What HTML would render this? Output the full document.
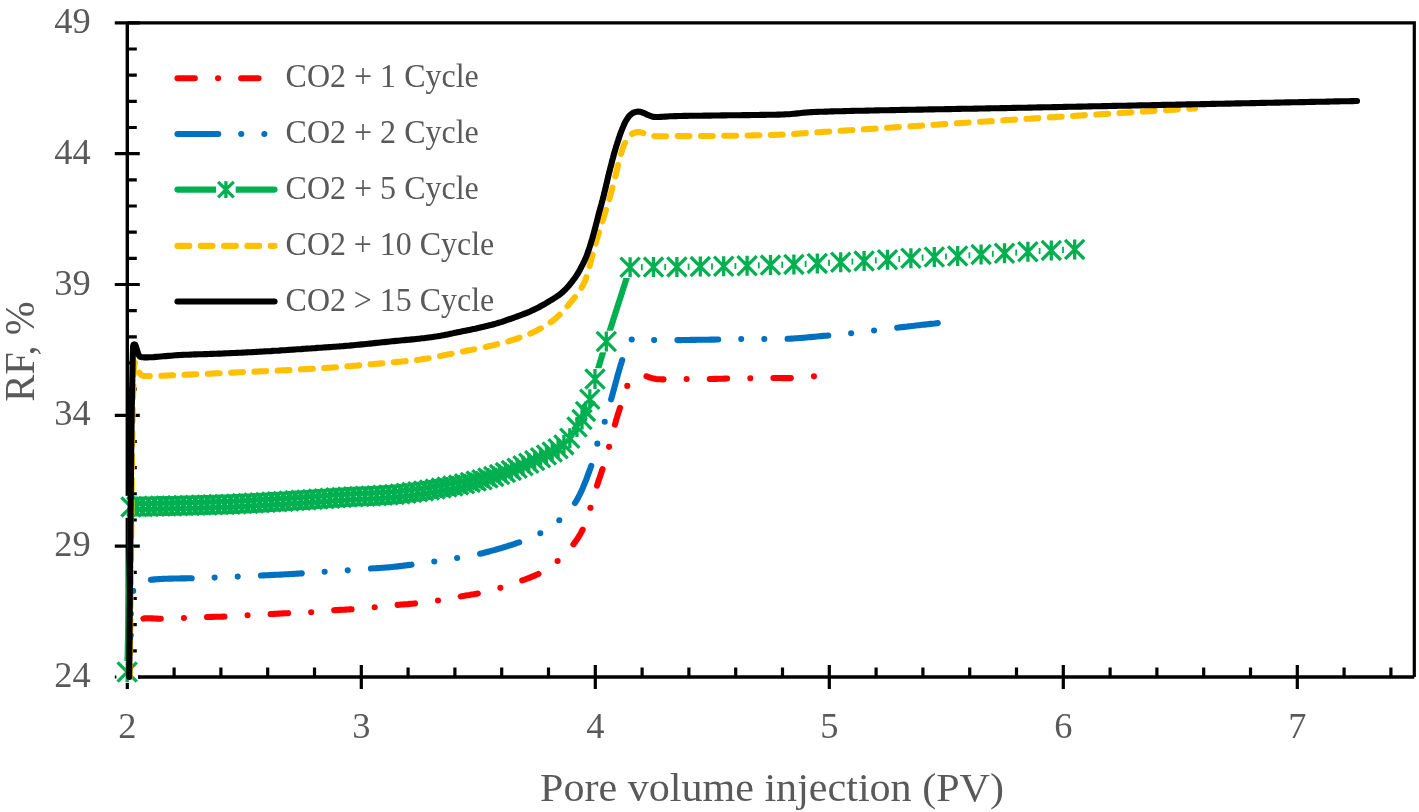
<!DOCTYPE html>
<html><head><meta charset="utf-8"><style>
html,body{margin:0;padding:0;background:#fff;}
body{width:1419px;height:812px;overflow:hidden;font-family:"Liberation Serif",serif;}
svg{display:block;}
svg{will-change:transform;}
</style></head><body>
<svg width="1419" height="812" viewBox="0 0 1419 812">
<rect width="1419" height="812" fill="#fff"/>
<path d="M127.3,22.8H1414.3V677.0" fill="none" stroke="#000" stroke-width="3.2"/>
<path d="M114.8,677.0H139.8 M127.3,650.8H136.8 M127.3,624.7H136.8 M127.3,598.5H136.8 M127.3,572.3H136.8 M114.8,546.2H139.8 M127.3,520.0H136.8 M127.3,493.8H136.8 M127.3,467.7H136.8 M127.3,441.5H136.8 M114.8,415.3H139.8 M127.3,389.2H136.8 M127.3,363.0H136.8 M127.3,336.8H136.8 M127.3,310.6H136.8 M114.8,284.5H139.8 M127.3,258.3H136.8 M127.3,232.1H136.8 M127.3,206.0H136.8 M127.3,179.8H136.8 M114.8,153.6H139.8 M127.3,127.5H136.8 M127.3,101.3H136.8 M127.3,75.1H136.8 M127.3,49.0H136.8 M114.8,22.8H139.8 M127.3,665.0V689.0 M174.1,667.5V677.0 M220.9,667.5V677.0 M267.7,667.5V677.0 M314.5,667.5V677.0 M361.3,665.0V689.0 M408.1,667.5V677.0 M454.9,667.5V677.0 M501.7,667.5V677.0 M548.5,667.5V677.0 M595.3,665.0V689.0 M642.1,667.5V677.0 M688.9,667.5V677.0 M735.7,667.5V677.0 M782.5,667.5V677.0 M829.3,665.0V689.0 M876.1,667.5V677.0 M922.9,667.5V677.0 M969.7,667.5V677.0 M1016.5,667.5V677.0 M1063.3,665.0V689.0 M1110.1,667.5V677.0 M1156.9,667.5V677.0 M1203.7,667.5V677.0 M1250.5,667.5V677.0 M1297.3,665.0V689.0 M1344.1,667.5V677.0 M1390.9,667.5V677.0" stroke="#000" stroke-width="3.2"/>
<path d="M127.3,22.8V677.0H1414.3" fill="none" stroke="#000" stroke-width="3.4"/>
<g font-family="Liberation Serif" font-size="36.4" fill="#595959"><text x="90.6" y="687.0" text-anchor="end">24</text><text x="90.6" y="556.2" text-anchor="end">29</text><text x="90.6" y="425.3" text-anchor="end">34</text><text x="90.6" y="294.5" text-anchor="end">39</text><text x="90.6" y="163.6" text-anchor="end">44</text><text x="90.6" y="32.8" text-anchor="end">49</text><text x="127.3" y="738.3" text-anchor="middle">2</text><text x="361.3" y="738.3" text-anchor="middle">3</text><text x="595.3" y="738.3" text-anchor="middle">4</text><text x="829.3" y="738.3" text-anchor="middle">5</text><text x="1063.3" y="738.3" text-anchor="middle">6</text><text x="1297.3" y="738.3" text-anchor="middle">7</text></g>
<text x="772" y="801.3" text-anchor="middle" font-family="Liberation Serif" font-size="40.2" fill="#595959" textLength="464" lengthAdjust="spacingAndGlyphs">Pore volume injection (PV)</text>
<text transform="translate(34,351.6) rotate(-90)" x="0" y="0" text-anchor="middle" font-family="Liberation Serif" font-size="41.2" fill="#595959" textLength="100.5" lengthAdjust="spacingAndGlyphs">RF, %</text>
<path d="M128.0,677.0 L128.2,674.9 L128.3,672.8 L128.4,670.7 L128.6,668.7 L128.7,666.6 L128.9,664.5 L129.0,662.4 L129.1,660.3 L129.3,658.2 L129.5,656.2 L129.6,654.1 L129.8,652.0 L130.0,650.0 L130.2,647.8 L130.3,645.6 L130.4,643.2 L130.5,640.9 L130.5,638.5 L130.6,636.2 L130.8,634.0 L131.0,631.9 L131.3,629.9 L131.8,628.0 L132.3,626.4 L133.0,625.0 L134.3,623.2 L135.9,621.8 L137.6,620.7 L139.6,619.8 L141.7,619.0 L143.5,618.6 L145.4,618.3 L147.6,618.2 L149.8,618.3 L152.1,618.4 L154.4,618.5 L156.8,618.6 L159.1,618.7 L161.4,618.7 L163.4,618.7 L165.4,618.6 L167.4,618.5 L169.4,618.5 L171.4,618.4 L173.5,618.4 L175.5,618.3 L177.6,618.2 L179.6,618.1 L181.7,618.1 L183.7,618.0 L185.7,617.9 L187.7,617.8 L189.8,617.8 L191.8,617.7 L193.8,617.6 L195.8,617.5 L197.9,617.4 L199.9,617.3 L201.9,617.2 L203.8,617.2 L205.8,617.1 L208.0,617.0 L210.3,617.0 L212.4,616.9 L214.6,616.8 L216.8,616.8 L219.0,616.7 L221.1,616.7 L223.4,616.6 L225.6,616.5 L227.6,616.4 L229.6,616.3 L231.6,616.2 L233.6,616.1 L235.7,616.0 L237.7,615.9 L239.7,615.8 L241.8,615.6 L243.8,615.5 L245.9,615.4 L247.9,615.3 L249.9,615.2 L251.9,615.1 L254.0,615.0 L256.0,614.9 L258.0,614.7 L260.0,614.6 L262.1,614.5 L264.1,614.4 L266.1,614.3 L268.0,614.2 L270.0,614.1 L272.2,614.0 L274.4,613.9 L276.6,613.8 L278.8,613.6 L280.9,613.5 L283.1,613.4 L285.3,613.3 L287.5,613.2 L289.7,613.1 L291.7,613.0 L293.6,612.9 L295.6,612.9 L297.6,612.8 L299.7,612.7 L301.7,612.7 L303.7,612.6 L305.7,612.5 L307.8,612.4 L309.8,612.3 L311.8,612.2 L314.0,612.0 L316.2,611.9 L318.4,611.7 L320.6,611.4 L322.8,611.2 L325.0,611.0 L327.2,610.8 L329.4,610.6 L331.5,610.4 L333.7,610.2 L335.7,610.1 L337.8,610.0 L339.8,609.9 L341.8,609.8 L343.8,609.7 L345.7,609.6 L347.7,609.5 L349.7,609.4 L351.8,609.3 L353.8,609.2 L355.9,609.0 L358.1,608.9 L360.3,608.7 L362.4,608.5 L364.6,608.3 L366.8,608.1 L369.0,607.9 L371.1,607.6 L373.3,607.4 L375.5,607.2 L377.7,607.0 L379.9,606.7 L382.1,606.5 L384.2,606.3 L386.4,606.0 L388.6,605.8 L390.8,605.6 L392.9,605.3 L395.1,605.1 L397.2,604.9 L399.4,604.7 L401.5,604.5 L403.6,604.4 L405.7,604.2 L407.8,604.1 L409.9,603.9 L412.1,603.7 L414.2,603.5 L416.4,603.3 L418.4,603.1 L420.4,602.8 L422.4,602.6 L424.5,602.3 L426.6,602.1 L428.6,601.8 L430.7,601.5 L432.8,601.2 L434.9,600.9 L436.9,600.6 L439.0,600.3 L441.1,600.0 L443.1,599.6 L445.2,599.3 L447.2,598.9 L449.3,598.5 L451.4,598.1 L453.4,597.8 L455.4,597.4 L457.5,597.0 L459.4,596.6 L461.4,596.3 L463.5,595.9 L465.6,595.6 L467.7,595.3 L469.7,595.0 L471.7,594.6 L473.7,594.3 L475.7,593.9 L477.8,593.5 L479.9,593.1 L481.8,592.7 L483.7,592.2 L485.7,591.8 L487.6,591.3 L489.6,590.8 L491.6,590.3 L493.6,589.8 L495.6,589.2 L497.6,588.7 L499.5,588.1 L501.5,587.5 L503.5,586.9 L505.5,586.3 L507.6,585.6 L509.6,584.9 L511.6,584.2 L513.7,583.5 L515.7,582.8 L517.7,582.1 L519.6,581.4 L521.5,580.7 L523.4,580.0 L525.4,579.3 L527.3,578.5 L529.2,577.8 L531.0,577.1 L532.8,576.4 L534.6,575.7 L536.4,574.8 L538.3,574.0 L540.1,573.0 L541.8,572.0 L543.5,571.0 L545.2,570.0 L547.0,568.9 L548.7,567.8 L550.4,566.6 L552.1,565.4 L553.8,564.1 L555.4,562.8 L557.0,561.5 L558.6,560.2 L560.1,558.8 L561.7,557.4 L563.2,555.9 L564.7,554.4 L566.1,552.9 L567.6,551.3 L569.0,549.8 L570.3,548.2 L571.6,546.6 L572.9,545.0 L574.1,543.4 L575.4,541.7 L576.6,539.9 L577.8,538.2 L578.9,536.4 L579.9,534.7 L580.9,532.9 L581.9,531.0 L582.9,529.1 L583.8,527.2 L584.6,525.4 L585.3,523.6 L586.0,521.7 L586.7,519.8 L587.3,517.8 L588.0,515.8 L588.6,513.8 L589.2,511.8 L589.8,509.9 L590.4,507.9 L591.0,505.9 L591.6,503.9 L592.2,501.9 L592.9,499.8 L593.5,497.8 L594.1,495.7 L594.7,493.6 L595.2,491.6 L595.8,489.6 L596.4,487.6 L597.0,485.7 L597.6,483.8 L598.3,481.6 L599.0,479.6 L599.7,477.6 L600.4,475.6 L601.0,473.6 L601.7,471.6 L602.4,469.6 L603.1,467.4 L603.7,465.5 L604.3,463.5 L604.9,461.5 L605.5,459.4 L606.1,457.4 L606.7,455.2 L607.3,453.1 L607.9,451.0 L608.5,448.9 L609.1,446.8 L609.7,444.7 L610.3,442.6 L610.8,440.5 L611.4,438.3 L611.9,436.2 L612.5,434.0 L613.0,431.9 L613.5,429.8 L614.1,427.7 L614.6,425.6 L615.2,423.6 L615.7,421.7 L616.3,419.5 L617.0,417.4 L617.6,415.4 L618.2,413.4 L618.9,411.5 L619.5,409.5 L620.2,407.4 L620.9,405.3 L621.5,403.4 L622.1,401.4 L622.7,399.3 L623.4,397.1 L624.0,394.9 L624.7,392.8 L625.3,390.7 L626.0,388.8 L626.8,387.0 L627.5,385.4 L628.3,384.0 L630.1,381.7 L632.0,380.0 L634.0,378.6 L636.0,377.5 L638.0,376.7 L640.0,376.2 L642.5,375.8 L645.0,375.9 L647.5,376.6 L650.0,377.6 L651.9,378.1 L653.9,378.6 L656.0,379.0 L658.1,379.2 L660.3,379.3 L662.6,379.4 L665.3,379.4 L667.0,379.4 L668.7,379.4 L670.6,379.4 L672.6,379.3 L674.7,379.3 L676.8,379.2 L678.9,379.2 L681.1,379.1 L683.2,379.1 L685.3,379.0 L687.4,379.0 L689.5,379.0 L691.5,379.0 L693.6,379.0 L695.7,379.0 L697.8,379.0 L699.8,379.0 L701.9,379.0 L704.0,379.0 L706.0,379.0 L708.0,379.0 L710.0,379.0 L712.2,379.0 L714.3,378.9 L716.4,378.9 L718.5,378.8 L720.5,378.7 L722.6,378.7 L724.7,378.6 L726.8,378.5 L729.0,378.5 L731.0,378.5 L732.9,378.4 L734.9,378.4 L736.9,378.4 L739.0,378.4 L741.0,378.4 L743.0,378.4 L745.1,378.4 L747.1,378.3 L749.2,378.3 L751.2,378.3 L753.3,378.3 L755.4,378.2 L757.5,378.2 L759.6,378.2 L761.7,378.2 L763.9,378.1 L766.0,378.1 L768.1,378.1 L770.1,378.0 L772.2,378.0 L774.2,378.0 L776.4,378.0 L778.6,378.0 L780.7,378.0 L782.8,378.1 L784.9,378.1 L787.0,378.1 L789.1,378.1 L791.2,378.1 L793.4,378.0 L795.4,377.9 L797.3,377.8 L799.3,377.6 L801.3,377.5 L803.3,377.3 L805.4,377.1 L807.4,376.9 L809.4,376.7 L811.5,376.6 L813.5,376.4 L815.5,376.2" fill="none" stroke="#FF0000" stroke-width="6.1" stroke-linecap="round" stroke-linejoin="round" stroke-dasharray="17.4 23.2 0 23.1" stroke-dashoffset="62.40"/>
<path d="M128.0,677.0 L128.1,674.9 L128.2,672.9 L128.3,670.9 L128.4,668.8 L128.6,666.8 L128.7,664.7 L128.8,662.7 L128.9,660.6 L129.0,658.6 L129.1,656.5 L129.2,654.5 L129.3,652.4 L129.4,650.4 L129.6,648.3 L129.7,646.3 L129.8,644.2 L129.9,642.1 L130.0,640.0 L130.1,638.0 L130.2,636.0 L130.3,633.9 L130.3,631.8 L130.4,629.7 L130.4,627.5 L130.5,625.4 L130.6,623.2 L130.6,621.1 L130.7,619.0 L130.8,616.8 L130.8,614.8 L130.9,612.7 L131.0,610.7 L131.1,608.7 L131.3,606.9 L131.4,605.0 L131.6,603.3 L131.8,601.6 L132.0,600.0 L132.3,597.6 L132.6,595.2 L132.9,592.9 L133.2,590.8 L133.6,588.8 L134.2,587.0 L135.0,585.4 L136.0,584.0 L137.4,582.9 L139.0,582.0 L140.7,581.4 L142.7,581.0 L144.8,580.7 L147.1,580.4 L149.6,580.0 L151.1,579.8 L152.8,579.6 L154.6,579.4 L156.5,579.2 L158.5,579.1 L160.6,579.0 L162.8,578.9 L165.0,578.8 L167.2,578.7 L169.5,578.6 L171.8,578.6 L174.1,578.5 L176.4,578.5 L178.7,578.5 L181.0,578.4 L183.2,578.4 L185.3,578.4 L187.4,578.3 L189.3,578.3 L191.2,578.3 L193.0,578.2 L195.5,578.1 L197.8,578.1 L200.0,578.0 L202.2,577.9 L204.3,577.9 L206.3,577.8 L208.4,577.8 L210.4,577.7 L212.5,577.7 L214.7,577.6 L216.8,577.5 L218.9,577.4 L221.0,577.4 L223.1,577.3 L225.2,577.2 L227.3,577.1 L229.4,577.0 L231.5,576.9 L233.6,576.8 L235.7,576.7 L237.8,576.6 L239.8,576.5 L241.8,576.4 L243.7,576.3 L245.6,576.3 L247.5,576.2 L249.4,576.1 L251.4,576.0 L253.4,575.9 L255.5,575.8 L257.7,575.7 L260.0,575.6 L261.8,575.5 L263.6,575.4 L265.6,575.3 L267.6,575.2 L269.7,575.1 L271.8,575.0 L274.0,574.9 L276.2,574.8 L278.4,574.7 L280.7,574.6 L282.9,574.5 L285.1,574.3 L287.4,574.2 L289.6,574.1 L291.7,574.0 L293.9,573.9 L295.9,573.8 L297.9,573.6 L299.9,573.5 L301.7,573.4 L303.5,573.3 L306.0,573.1 L308.3,573.0 L310.5,572.8 L312.7,572.6 L314.8,572.5 L316.8,572.3 L318.9,572.2 L320.9,572.0 L323.0,571.9 L325.2,571.7 L327.3,571.6 L329.4,571.4 L331.5,571.3 L333.6,571.2 L335.7,571.1 L337.8,570.9 L339.9,570.8 L342.0,570.7 L344.1,570.6 L346.2,570.4 L348.3,570.3 L350.5,570.1 L352.6,570.0 L354.8,569.8 L356.9,569.6 L359.0,569.5 L361.2,569.3 L363.3,569.1 L365.4,568.9 L367.5,568.8 L369.6,568.6 L371.7,568.5 L373.7,568.3 L375.7,568.2 L377.8,568.1 L379.8,568.0 L381.8,567.8 L383.8,567.7 L385.9,567.5 L387.9,567.4 L390.0,567.2 L392.0,567.0 L393.9,566.8 L395.9,566.6 L397.9,566.4 L399.9,566.1 L401.9,565.9 L403.9,565.6 L405.9,565.4 L408.0,565.1 L410.0,564.9 L412.0,564.6 L414.1,564.3 L416.1,564.1 L418.2,563.8 L420.3,563.5 L422.4,563.2 L424.5,562.9 L426.6,562.6 L428.6,562.3 L430.7,562.0 L432.8,561.7 L434.9,561.4 L437.0,561.1 L439.1,560.8 L441.1,560.5 L443.2,560.2 L445.3,559.9 L447.4,559.6 L449.5,559.2 L451.6,558.9 L453.6,558.6 L455.7,558.2 L457.8,557.9 L459.9,557.6 L461.9,557.2 L463.9,556.9 L465.9,556.6 L467.9,556.2 L469.9,555.9 L471.9,555.5 L474.0,555.1 L476.2,554.6 L478.4,554.1 L480.7,553.6 L482.5,553.2 L484.3,552.7 L486.2,552.2 L488.1,551.7 L490.1,551.2 L492.1,550.6 L494.2,550.1 L496.3,549.5 L498.4,548.9 L500.5,548.3 L502.6,547.6 L504.7,547.0 L506.8,546.4 L508.8,545.7 L510.8,545.1 L512.8,544.5 L514.7,543.8 L516.5,543.2 L518.3,542.6 L520.0,542.0 L522.2,541.2 L524.3,540.4 L526.3,539.7 L528.3,538.9 L530.1,538.1 L532.0,537.3 L533.8,536.5 L535.6,535.7 L537.4,534.8 L539.2,533.9 L541.0,532.9 L542.8,531.9 L544.6,530.8 L546.4,529.7 L548.2,528.5 L550.0,527.3 L551.7,526.1 L553.4,524.9 L555.1,523.6 L556.8,522.3 L558.4,521.0 L560.0,519.6 L561.5,518.2 L563.0,516.9 L564.5,515.5 L565.9,514.2 L567.3,512.8 L568.7,511.3 L570.0,509.8 L571.3,508.2 L572.6,506.5 L573.9,504.7 L575.2,502.8 L576.1,501.3 L577.1,499.7 L578.0,498.0 L578.9,496.2 L579.9,494.3 L580.8,492.4 L581.7,490.4 L582.6,488.4 L583.4,486.4 L584.3,484.3 L585.1,482.2 L586.0,480.2 L586.8,478.1 L587.5,476.0 L588.3,474.0 L589.0,472.1 L589.7,470.1 L590.4,468.3 L591.0,466.5 L591.6,464.8 L592.3,462.6 L593.0,460.5 L593.6,458.4 L594.1,456.4 L594.6,454.4 L595.1,452.5 L595.5,450.6 L596.0,448.6 L596.5,446.7 L597.0,444.8 L597.6,442.8 L598.2,440.8 L598.9,438.8 L599.5,436.8 L600.2,434.8 L600.9,432.9 L601.6,430.9 L602.3,428.9 L603.0,426.9 L603.7,424.9 L604.4,422.9 L605.0,420.9 L605.6,418.9 L606.2,416.9 L606.8,415.0 L607.3,413.0 L607.9,411.1 L608.4,409.1 L609.0,407.1 L609.6,405.0 L610.1,402.9 L610.8,400.7 L611.4,398.4 L611.9,396.7 L612.4,394.8 L612.9,392.9 L613.4,391.0 L614.0,389.0 L614.5,386.9 L615.1,384.8 L615.7,382.7 L616.3,380.5 L616.8,378.4 L617.4,376.3 L618.0,374.2 L618.6,372.1 L619.2,370.0 L619.8,368.0 L620.3,366.0 L620.9,364.2 L621.5,362.4 L622.0,360.6 L622.6,359.0 L623.4,356.6 L624.2,354.2 L624.9,351.9 L625.6,349.6 L626.4,347.5 L627.1,345.6 L628.0,343.8 L628.9,342.3 L630.0,341.0 L631.8,339.5 L633.6,338.5 L635.7,337.9 L638.0,337.5 L639.7,337.4 L641.5,337.6 L643.4,338.0 L645.4,338.4 L647.5,338.9 L649.6,339.4 L651.8,339.8 L654.0,340.1 L655.9,340.2 L657.9,340.3 L659.8,340.4 L661.8,340.4 L663.9,340.4 L666.0,340.3 L668.1,340.3 L670.3,340.2 L672.5,340.2 L674.8,340.1 L677.2,340.1 L679.0,340.1 L680.9,340.1 L682.8,340.0 L684.8,340.0 L686.8,340.0 L688.9,340.0 L691.0,339.9 L693.1,339.9 L695.3,339.9 L697.5,339.8 L699.6,339.8 L701.8,339.8 L703.9,339.7 L706.1,339.7 L708.1,339.7 L710.2,339.6 L712.2,339.6 L714.1,339.6 L716.0,339.5 L717.8,339.5 L720.2,339.5 L722.5,339.4 L724.7,339.4 L726.9,339.3 L729.0,339.2 L731.1,339.2 L733.2,339.1 L735.2,339.1 L737.3,339.1 L739.4,339.0 L741.5,339.0 L743.6,339.0 L745.7,339.0 L747.8,339.0 L750.0,339.0 L752.1,339.0 L754.2,339.0 L756.3,339.0 L758.4,339.0 L760.5,339.0 L762.6,339.0 L764.7,339.0 L766.8,339.0 L768.8,339.0 L770.8,339.0 L772.8,339.0 L774.8,339.0 L776.8,339.0 L778.9,339.0 L781.0,339.0 L783.1,339.0 L785.4,338.9 L787.7,338.8 L789.5,338.7 L791.4,338.6 L793.4,338.5 L795.4,338.3 L797.5,338.2 L799.6,338.0 L801.8,337.9 L804.0,337.7 L806.2,337.5 L808.4,337.3 L810.6,337.1 L812.8,336.9 L815.0,336.7 L817.1,336.5 L819.3,336.3 L821.3,336.1 L823.4,335.9 L825.3,335.7 L827.2,335.6 L829.0,335.4 L831.3,335.2 L833.5,335.0 L835.6,334.8 L837.7,334.6 L839.7,334.4 L841.6,334.2 L843.6,334.0 L845.5,333.8 L847.5,333.6 L849.5,333.4 L851.5,333.2 L853.6,333.0 L855.7,332.7 L857.8,332.5 L859.9,332.2 L862.0,332.0 L864.0,331.7 L866.1,331.4 L868.2,331.2 L870.3,330.9 L872.4,330.7 L874.5,330.4 L876.5,330.2 L878.5,329.9 L880.5,329.7 L882.4,329.4 L884.4,329.2 L886.3,329.0 L888.3,328.7 L890.4,328.5 L892.5,328.2 L894.7,328.0 L897.0,327.7 L898.7,327.5 L900.5,327.3 L902.3,327.1 L904.2,326.9 L906.1,326.7 L908.0,326.4 L910.0,326.2 L912.0,326.0 L914.0,325.8 L916.1,325.5 L918.1,325.3 L920.2,325.1 L922.3,324.8 L924.4,324.6 L926.5,324.4 L928.6,324.1 L930.6,323.9 L932.7,323.7 L934.8,323.5 L936.8,323.2 L938.8,323.0" fill="none" stroke="#0070C0" stroke-width="6.1" stroke-linecap="round" stroke-linejoin="round" stroke-dasharray="40.8 23 0 23.1 0 23.3" stroke-dashoffset="0.59"/>
<path d="M127.2,672.0 L131.0,506.9 L136.8,506.6 L142.7,506.5 L148.5,506.4 L154.4,506.2 L160.2,506.1 L166.1,506.0 L171.9,505.9 L177.8,505.7 L183.6,505.6 L189.5,505.4 L195.3,505.3 L201.2,505.1 L207.0,505.0 L212.9,504.8 L218.7,504.6 L224.6,504.4 L230.4,504.2 L236.3,503.9 L242.1,503.6 L248.0,503.4 L253.8,503.0 L259.7,502.7 L265.5,502.4 L271.4,502.1 L277.2,501.7 L283.1,501.4 L288.9,501.0 L294.8,500.6 L300.7,500.3 L306.5,499.9 L312.4,499.5 L318.2,499.1 L324.1,498.7 L329.9,498.3 L335.8,497.8 L341.6,497.4 L347.5,497.1 L353.3,496.8 L359.2,496.5 L365.0,496.3 L370.9,496.0 L376.7,495.7 L382.6,495.3 L388.4,494.9 L394.3,494.5 L400.1,493.9 L406.0,493.2 L411.8,492.5 L417.7,491.7 L423.5,490.9 L429.4,490.0 L435.2,489.1 L441.1,488.1 L446.9,487.1 L452.8,486.0 L458.6,484.9 L464.5,483.7 L470.3,482.4 L476.2,481.1 L482.0,479.7 L487.9,478.1 L493.7,476.4 L499.6,474.6 L505.4,472.6 L511.3,470.4 L517.1,468.2 L523.0,465.8 L528.8,463.3 L534.7,460.6 L540.5,457.8 L546.4,455.0 L552.2,452.0 L558.1,448.8 L563.9,444.9 L569.8,438.3 L577.0,427.0 L582.0,419.5 L585.5,411.4 L589.8,399.3 L595.0,379.0 L606.3,341.5 L630.1,267.2 L653.5,267.1 L676.9,266.9 L700.3,266.6 L723.7,266.2 L747.1,265.7 L770.5,265.1 L793.9,264.4 L817.3,263.4 L840.7,262.2 L864.1,261.0 L887.5,259.7 L910.9,258.2 L934.3,257.0 L957.7,256.0 L981.1,254.5 L1004.5,253.3 L1027.9,251.8 L1051.3,250.4 L1074.7,249.4" fill="none" stroke="#00B050" stroke-width="6.1" stroke-linecap="round" stroke-linejoin="round"/>
<g fill="#fff"><rect x="116.4" y="661.2" width="21.6" height="21.6"/><rect x="120.2" y="496.1" width="21.6" height="21.6"/><rect x="126.0" y="495.8" width="21.6" height="21.6"/><rect x="131.9" y="495.7" width="21.6" height="21.6"/><rect x="137.7" y="495.6" width="21.6" height="21.6"/><rect x="143.6" y="495.4" width="21.6" height="21.6"/><rect x="149.4" y="495.3" width="21.6" height="21.6"/><rect x="155.3" y="495.2" width="21.6" height="21.6"/><rect x="161.1" y="495.1" width="21.6" height="21.6"/><rect x="167.0" y="494.9" width="21.6" height="21.6"/><rect x="172.8" y="494.8" width="21.6" height="21.6"/><rect x="178.7" y="494.6" width="21.6" height="21.6"/><rect x="184.5" y="494.5" width="21.6" height="21.6"/><rect x="190.4" y="494.3" width="21.6" height="21.6"/><rect x="196.2" y="494.2" width="21.6" height="21.6"/><rect x="202.1" y="494.0" width="21.6" height="21.6"/><rect x="207.9" y="493.8" width="21.6" height="21.6"/><rect x="213.8" y="493.6" width="21.6" height="21.6"/><rect x="219.6" y="493.4" width="21.6" height="21.6"/><rect x="225.5" y="493.1" width="21.6" height="21.6"/><rect x="231.3" y="492.8" width="21.6" height="21.6"/><rect x="237.2" y="492.6" width="21.6" height="21.6"/><rect x="243.0" y="492.2" width="21.6" height="21.6"/><rect x="248.9" y="491.9" width="21.6" height="21.6"/><rect x="254.7" y="491.6" width="21.6" height="21.6"/><rect x="260.6" y="491.3" width="21.6" height="21.6"/><rect x="266.4" y="490.9" width="21.6" height="21.6"/><rect x="272.3" y="490.6" width="21.6" height="21.6"/><rect x="278.1" y="490.2" width="21.6" height="21.6"/><rect x="284.0" y="489.8" width="21.6" height="21.6"/><rect x="289.9" y="489.5" width="21.6" height="21.6"/><rect x="295.7" y="489.1" width="21.6" height="21.6"/><rect x="301.6" y="488.7" width="21.6" height="21.6"/><rect x="307.4" y="488.3" width="21.6" height="21.6"/><rect x="313.3" y="487.9" width="21.6" height="21.6"/><rect x="319.1" y="487.5" width="21.6" height="21.6"/><rect x="325.0" y="487.0" width="21.6" height="21.6"/><rect x="330.8" y="486.6" width="21.6" height="21.6"/><rect x="336.7" y="486.3" width="21.6" height="21.6"/><rect x="342.5" y="486.0" width="21.6" height="21.6"/><rect x="348.4" y="485.7" width="21.6" height="21.6"/><rect x="354.2" y="485.5" width="21.6" height="21.6"/><rect x="360.1" y="485.2" width="21.6" height="21.6"/><rect x="365.9" y="484.9" width="21.6" height="21.6"/><rect x="371.8" y="484.5" width="21.6" height="21.6"/><rect x="377.6" y="484.1" width="21.6" height="21.6"/><rect x="383.5" y="483.7" width="21.6" height="21.6"/><rect x="389.3" y="483.1" width="21.6" height="21.6"/><rect x="395.2" y="482.4" width="21.6" height="21.6"/><rect x="401.0" y="481.7" width="21.6" height="21.6"/><rect x="406.9" y="480.9" width="21.6" height="21.6"/><rect x="412.7" y="480.1" width="21.6" height="21.6"/><rect x="418.6" y="479.2" width="21.6" height="21.6"/><rect x="424.4" y="478.3" width="21.6" height="21.6"/><rect x="430.3" y="477.3" width="21.6" height="21.6"/><rect x="436.1" y="476.3" width="21.6" height="21.6"/><rect x="442.0" y="475.2" width="21.6" height="21.6"/><rect x="447.8" y="474.1" width="21.6" height="21.6"/><rect x="453.7" y="472.9" width="21.6" height="21.6"/><rect x="459.5" y="471.6" width="21.6" height="21.6"/><rect x="465.4" y="470.3" width="21.6" height="21.6"/><rect x="471.2" y="468.9" width="21.6" height="21.6"/><rect x="477.1" y="467.3" width="21.6" height="21.6"/><rect x="482.9" y="465.6" width="21.6" height="21.6"/><rect x="488.8" y="463.8" width="21.6" height="21.6"/><rect x="494.6" y="461.8" width="21.6" height="21.6"/><rect x="500.5" y="459.6" width="21.6" height="21.6"/><rect x="506.3" y="457.4" width="21.6" height="21.6"/><rect x="512.2" y="455.0" width="21.6" height="21.6"/><rect x="518.0" y="452.5" width="21.6" height="21.6"/><rect x="523.9" y="449.8" width="21.6" height="21.6"/><rect x="529.7" y="447.0" width="21.6" height="21.6"/><rect x="535.6" y="444.2" width="21.6" height="21.6"/><rect x="541.4" y="441.2" width="21.6" height="21.6"/><rect x="547.3" y="438.0" width="21.6" height="21.6"/><rect x="553.1" y="434.1" width="21.6" height="21.6"/><rect x="559.0" y="427.5" width="21.6" height="21.6"/><rect x="566.2" y="416.2" width="21.6" height="21.6"/><rect x="571.2" y="408.7" width="21.6" height="21.6"/><rect x="574.7" y="400.6" width="21.6" height="21.6"/><rect x="579.0" y="388.5" width="21.6" height="21.6"/><rect x="584.2" y="368.2" width="21.6" height="21.6"/><rect x="595.5" y="330.7" width="21.6" height="21.6"/><rect x="619.3" y="256.4" width="21.6" height="21.6"/><rect x="642.7" y="256.3" width="21.6" height="21.6"/><rect x="666.1" y="256.1" width="21.6" height="21.6"/><rect x="689.5" y="255.8" width="21.6" height="21.6"/><rect x="712.9" y="255.4" width="21.6" height="21.6"/><rect x="736.3" y="254.9" width="21.6" height="21.6"/><rect x="759.7" y="254.3" width="21.6" height="21.6"/><rect x="783.1" y="253.6" width="21.6" height="21.6"/><rect x="806.5" y="252.6" width="21.6" height="21.6"/><rect x="829.9" y="251.4" width="21.6" height="21.6"/><rect x="853.3" y="250.2" width="21.6" height="21.6"/><rect x="876.7" y="248.9" width="21.6" height="21.6"/><rect x="900.1" y="247.4" width="21.6" height="21.6"/><rect x="923.5" y="246.2" width="21.6" height="21.6"/><rect x="946.9" y="245.2" width="21.6" height="21.6"/><rect x="970.3" y="243.7" width="21.6" height="21.6"/><rect x="993.7" y="242.5" width="21.6" height="21.6"/><rect x="1017.1" y="241.0" width="21.6" height="21.6"/><rect x="1040.5" y="239.6" width="21.6" height="21.6"/><rect x="1063.9" y="238.6" width="21.6" height="21.6"/></g>
<g fill="none" stroke="#00B050" stroke-width="3.3"><path d="M117.6,662.4L136.8,681.6M117.6,681.6L136.8,662.4M127.2,662.0L127.2,682.0"/><path d="M121.4,497.3L140.6,516.5M121.4,516.5L140.6,497.3M131.0,496.9L131.0,516.9"/><path d="M127.2,497.0L146.4,516.2M127.2,516.2L146.4,497.0M136.8,496.6L136.8,516.6"/><path d="M133.1,496.9L152.3,516.1M133.1,516.1L152.3,496.9M142.7,496.5L142.7,516.5"/><path d="M138.9,496.8L158.1,516.0M138.9,516.0L158.1,496.8M148.5,496.4L148.5,516.4"/><path d="M144.8,496.6L164.0,515.8M144.8,515.8L164.0,496.6M154.4,496.2L154.4,516.2"/><path d="M150.6,496.5L169.8,515.7M150.6,515.7L169.8,496.5M160.2,496.1L160.2,516.1"/><path d="M156.5,496.4L175.7,515.6M156.5,515.6L175.7,496.4M166.1,496.0L166.1,516.0"/><path d="M162.3,496.3L181.5,515.5M162.3,515.5L181.5,496.3M171.9,495.9L171.9,515.9"/><path d="M168.2,496.1L187.4,515.3M168.2,515.3L187.4,496.1M177.8,495.7L177.8,515.7"/><path d="M174.0,496.0L193.2,515.2M174.0,515.2L193.2,496.0M183.6,495.6L183.6,515.6"/><path d="M179.9,495.8L199.1,515.0M179.9,515.0L199.1,495.8M189.5,495.4L189.5,515.4"/><path d="M185.7,495.7L204.9,514.9M185.7,514.9L204.9,495.7M195.3,495.3L195.3,515.3"/><path d="M191.6,495.5L210.8,514.7M191.6,514.7L210.8,495.5M201.2,495.1L201.2,515.1"/><path d="M197.4,495.4L216.6,514.6M197.4,514.6L216.6,495.4M207.0,495.0L207.0,515.0"/><path d="M203.3,495.2L222.5,514.4M203.3,514.4L222.5,495.2M212.9,494.8L212.9,514.8"/><path d="M209.1,495.0L228.3,514.2M209.1,514.2L228.3,495.0M218.7,494.6L218.7,514.6"/><path d="M215.0,494.8L234.2,514.0M215.0,514.0L234.2,494.8M224.6,494.4L224.6,514.4"/><path d="M220.8,494.6L240.0,513.8M220.8,513.8L240.0,494.6M230.4,494.2L230.4,514.2"/><path d="M226.7,494.3L245.9,513.5M226.7,513.5L245.9,494.3M236.3,493.9L236.3,513.9"/><path d="M232.5,494.0L251.7,513.2M232.5,513.2L251.7,494.0M242.1,493.6L242.1,513.6"/><path d="M238.4,493.8L257.6,513.0M238.4,513.0L257.6,493.8M248.0,493.4L248.0,513.4"/><path d="M244.2,493.4L263.4,512.6M244.2,512.6L263.4,493.4M253.8,493.0L253.8,513.0"/><path d="M250.1,493.1L269.3,512.3M250.1,512.3L269.3,493.1M259.7,492.7L259.7,512.7"/><path d="M255.9,492.8L275.1,512.0M255.9,512.0L275.1,492.8M265.5,492.4L265.5,512.4"/><path d="M261.8,492.5L281.0,511.7M261.8,511.7L281.0,492.5M271.4,492.1L271.4,512.1"/><path d="M267.6,492.1L286.8,511.3M267.6,511.3L286.8,492.1M277.2,491.7L277.2,511.7"/><path d="M273.5,491.8L292.7,511.0M273.5,511.0L292.7,491.8M283.1,491.4L283.1,511.4"/><path d="M279.3,491.4L298.6,510.6M279.3,510.6L298.6,491.4M288.9,491.0L288.9,511.0"/><path d="M285.2,491.0L304.4,510.2M285.2,510.2L304.4,491.0M294.8,490.6L294.8,510.6"/><path d="M291.1,490.7L310.3,509.9M291.1,509.9L310.3,490.7M300.7,490.3L300.7,510.3"/><path d="M296.9,490.3L316.1,509.5M296.9,509.5L316.1,490.3M306.5,489.9L306.5,509.9"/><path d="M302.8,489.9L322.0,509.1M302.8,509.1L322.0,489.9M312.4,489.5L312.4,509.5"/><path d="M308.6,489.5L327.8,508.7M308.6,508.7L327.8,489.5M318.2,489.1L318.2,509.1"/><path d="M314.5,489.1L333.7,508.3M314.5,508.3L333.7,489.1M324.1,488.7L324.1,508.7"/><path d="M320.3,488.7L339.5,507.9M320.3,507.9L339.5,488.7M329.9,488.3L329.9,508.3"/><path d="M326.2,488.2L345.4,507.4M326.2,507.4L345.4,488.2M335.8,487.8L335.8,507.8"/><path d="M332.0,487.8L351.2,507.0M332.0,507.0L351.2,487.8M341.6,487.4L341.6,507.4"/><path d="M337.9,487.5L357.1,506.7M337.9,506.7L357.1,487.5M347.5,487.1L347.5,507.1"/><path d="M343.7,487.2L362.9,506.4M343.7,506.4L362.9,487.2M353.3,486.8L353.3,506.8"/><path d="M349.6,486.9L368.8,506.1M349.6,506.1L368.8,486.9M359.2,486.5L359.2,506.5"/><path d="M355.4,486.7L374.6,505.9M355.4,505.9L374.6,486.7M365.0,486.3L365.0,506.3"/><path d="M361.3,486.4L380.5,505.6M361.3,505.6L380.5,486.4M370.9,486.0L370.9,506.0"/><path d="M367.1,486.1L386.3,505.3M367.1,505.3L386.3,486.1M376.7,485.7L376.7,505.7"/><path d="M373.0,485.7L392.2,504.9M373.0,504.9L392.2,485.7M382.6,485.3L382.6,505.3"/><path d="M378.8,485.3L398.0,504.5M378.8,504.5L398.0,485.3M388.4,484.9L388.4,504.9"/><path d="M384.7,484.9L403.9,504.1M384.7,504.1L403.9,484.9M394.3,484.5L394.3,504.5"/><path d="M390.5,484.3L409.7,503.5M390.5,503.5L409.7,484.3M400.1,483.9L400.1,503.9"/><path d="M396.4,483.6L415.6,502.8M396.4,502.8L415.6,483.6M406.0,483.2L406.0,503.2"/><path d="M402.2,482.9L421.4,502.1M402.2,502.1L421.4,482.9M411.8,482.5L411.8,502.5"/><path d="M408.1,482.1L427.3,501.3M408.1,501.3L427.3,482.1M417.7,481.7L417.7,501.7"/><path d="M413.9,481.3L433.1,500.5M413.9,500.5L433.1,481.3M423.5,480.9L423.5,500.9"/><path d="M419.8,480.4L439.0,499.6M419.8,499.6L439.0,480.4M429.4,480.0L429.4,500.0"/><path d="M425.6,479.5L444.8,498.7M425.6,498.7L444.8,479.5M435.2,479.1L435.2,499.1"/><path d="M431.5,478.5L450.7,497.7M431.5,497.7L450.7,478.5M441.1,478.1L441.1,498.1"/><path d="M437.3,477.5L456.5,496.7M437.3,496.7L456.5,477.5M446.9,477.1L446.9,497.1"/><path d="M443.2,476.4L462.4,495.6M443.2,495.6L462.4,476.4M452.8,476.0L452.8,496.0"/><path d="M449.0,475.3L468.2,494.5M449.0,494.5L468.2,475.3M458.6,474.9L458.6,494.9"/><path d="M454.9,474.1L474.1,493.3M454.9,493.3L474.1,474.1M464.5,473.7L464.5,493.7"/><path d="M460.7,472.8L479.9,492.0M460.7,492.0L479.9,472.8M470.3,472.4L470.3,492.4"/><path d="M466.6,471.5L485.8,490.7M466.6,490.7L485.8,471.5M476.2,471.1L476.2,491.1"/><path d="M472.4,470.1L491.6,489.3M472.4,489.3L491.6,470.1M482.0,469.7L482.0,489.7"/><path d="M478.3,468.5L497.5,487.7M478.3,487.7L497.5,468.5M487.9,468.1L487.9,488.1"/><path d="M484.1,466.8L503.3,486.0M484.1,486.0L503.3,466.8M493.7,466.4L493.7,486.4"/><path d="M490.0,465.0L509.2,484.2M490.0,484.2L509.2,465.0M499.6,464.6L499.6,484.6"/><path d="M495.8,463.0L515.0,482.2M495.8,482.2L515.0,463.0M505.4,462.6L505.4,482.6"/><path d="M501.7,460.8L520.9,480.0M501.7,480.0L520.9,460.8M511.3,460.4L511.3,480.4"/><path d="M507.5,458.6L526.7,477.8M507.5,477.8L526.7,458.6M517.1,458.2L517.1,478.2"/><path d="M513.4,456.2L532.6,475.4M513.4,475.4L532.6,456.2M523.0,455.8L523.0,475.8"/><path d="M519.2,453.7L538.4,472.9M519.2,472.9L538.4,453.7M528.8,453.3L528.8,473.3"/><path d="M525.1,451.0L544.3,470.2M525.1,470.2L544.3,451.0M534.7,450.6L534.7,470.6"/><path d="M530.9,448.2L550.1,467.4M530.9,467.4L550.1,448.2M540.5,447.8L540.5,467.8"/><path d="M536.8,445.4L556.0,464.6M536.8,464.6L556.0,445.4M546.4,445.0L546.4,465.0"/><path d="M542.6,442.4L561.8,461.6M542.6,461.6L561.8,442.4M552.2,442.0L552.2,462.0"/><path d="M548.5,439.2L567.7,458.4M548.5,458.4L567.7,439.2M558.1,438.8L558.1,458.8"/><path d="M554.3,435.3L573.5,454.5M554.3,454.5L573.5,435.3M563.9,434.9L563.9,454.9"/><path d="M560.2,428.7L579.4,447.9M560.2,447.9L579.4,428.7M569.8,428.3L569.8,448.3"/><path d="M567.4,417.4L586.6,436.6M567.4,436.6L586.6,417.4M577.0,417.0L577.0,437.0"/><path d="M572.4,409.9L591.6,429.1M572.4,429.1L591.6,409.9M582.0,409.5L582.0,429.5"/><path d="M575.9,401.8L595.1,421.0M575.9,421.0L595.1,401.8M585.5,401.4L585.5,421.4"/><path d="M580.2,389.7L599.4,408.9M580.2,408.9L599.4,389.7M589.8,389.3L589.8,409.3"/><path d="M585.4,369.4L604.6,388.6M585.4,388.6L604.6,369.4M595.0,369.0L595.0,389.0"/><path d="M596.7,331.9L615.9,351.1M596.7,351.1L615.9,331.9M606.3,331.5L606.3,351.5"/><path d="M620.5,257.6L639.7,276.8M620.5,276.8L639.7,257.6M630.1,257.2L630.1,277.2"/><path d="M643.9,257.5L663.1,276.7M643.9,276.7L663.1,257.5M653.5,257.1L653.5,277.1"/><path d="M667.3,257.3L686.5,276.5M667.3,276.5L686.5,257.3M676.9,256.9L676.9,276.9"/><path d="M690.7,257.0L709.9,276.2M690.7,276.2L709.9,257.0M700.3,256.6L700.3,276.6"/><path d="M714.1,256.6L733.3,275.8M714.1,275.8L733.3,256.6M723.7,256.2L723.7,276.2"/><path d="M737.5,256.1L756.7,275.3M737.5,275.3L756.7,256.1M747.1,255.7L747.1,275.7"/><path d="M760.9,255.5L780.1,274.7M760.9,274.7L780.1,255.5M770.5,255.1L770.5,275.1"/><path d="M784.3,254.8L803.5,274.0M784.3,274.0L803.5,254.8M793.9,254.4L793.9,274.4"/><path d="M807.7,253.8L826.9,273.0M807.7,273.0L826.9,253.8M817.3,253.4L817.3,273.4"/><path d="M831.1,252.6L850.3,271.8M831.1,271.8L850.3,252.6M840.7,252.2L840.7,272.2"/><path d="M854.5,251.4L873.7,270.6M854.5,270.6L873.7,251.4M864.1,251.0L864.1,271.0"/><path d="M877.9,250.1L897.1,269.3M877.9,269.3L897.1,250.1M887.5,249.7L887.5,269.7"/><path d="M901.3,248.6L920.5,267.8M901.3,267.8L920.5,248.6M910.9,248.2L910.9,268.2"/><path d="M924.7,247.4L943.9,266.6M924.7,266.6L943.9,247.4M934.3,247.0L934.3,267.0"/><path d="M948.1,246.4L967.3,265.6M948.1,265.6L967.3,246.4M957.7,246.0L957.7,266.0"/><path d="M971.5,244.9L990.7,264.1M971.5,264.1L990.7,244.9M981.1,244.5L981.1,264.5"/><path d="M994.9,243.7L1014.1,262.9M994.9,262.9L1014.1,243.7M1004.5,243.3L1004.5,263.3"/><path d="M1018.3,242.2L1037.5,261.4M1018.3,261.4L1037.5,242.2M1027.9,241.8L1027.9,261.8"/><path d="M1041.7,240.8L1060.9,260.0M1041.7,260.0L1060.9,240.8M1051.3,240.4L1051.3,260.4"/><path d="M1065.1,239.8L1084.3,259.0M1065.1,259.0L1084.3,239.8M1074.7,239.4L1074.7,259.4"/></g>
<path d="M129.8,677.0 L129.8,675.0 L129.8,673.0 L129.9,671.0 L129.9,669.1 L129.9,667.1 L129.9,665.2 L129.9,663.3 L130.0,661.4 L130.0,659.5 L130.0,657.6 L130.0,655.7 L130.0,653.8 L130.1,651.9 L130.1,650.0 L130.1,648.1 L130.1,646.2 L130.1,644.3 L130.2,642.4 L130.2,640.5 L130.2,638.6 L130.2,636.6 L130.2,634.7 L130.3,632.7 L130.3,630.7 L130.3,628.7 L130.3,626.7 L130.3,624.6 L130.4,622.6 L130.4,620.5 L130.4,618.3 L130.4,616.2 L130.5,614.0 L130.5,611.7 L130.5,609.5 L130.5,607.2 L130.5,604.8 L130.6,602.4 L130.6,600.0 L130.6,598.4 L130.6,596.8 L130.7,595.1 L130.7,593.4 L130.7,591.7 L130.7,589.9 L130.7,588.1 L130.7,586.3 L130.8,584.4 L130.8,582.5 L130.8,580.6 L130.8,578.7 L130.8,576.7 L130.9,574.7 L130.9,572.7 L130.9,570.7 L130.9,568.7 L130.9,566.6 L131.0,564.5 L131.0,562.4 L131.0,560.2 L131.0,558.1 L131.1,555.9 L131.1,553.8 L131.1,551.6 L131.1,549.4 L131.1,547.1 L131.2,544.9 L131.2,542.7 L131.2,540.4 L131.2,538.1 L131.3,535.9 L131.3,533.6 L131.3,531.3 L131.3,529.0 L131.3,526.7 L131.4,524.4 L131.4,522.1 L131.4,519.8 L131.4,517.5 L131.5,515.2 L131.5,512.9 L131.5,510.6 L131.5,508.3 L131.6,506.0 L131.6,503.7 L131.6,501.4 L131.6,499.1 L131.7,496.8 L131.7,494.6 L131.7,492.3 L131.7,490.0 L131.7,487.8 L131.8,485.6 L131.8,483.3 L131.8,481.1 L131.8,478.9 L131.9,476.8 L131.9,474.6 L131.9,472.4 L131.9,470.3 L132.0,468.2 L132.0,466.1 L132.0,464.0 L132.0,462.0 L132.1,459.9 L132.1,457.9 L132.1,456.0 L132.1,454.0 L132.2,452.1 L132.2,450.1 L132.2,448.3 L132.2,446.4 L132.2,444.6 L132.3,442.8 L132.3,441.0 L132.3,439.3 L132.3,437.6 L132.4,435.9 L132.4,434.3 L132.4,432.7 L132.4,431.1 L132.5,429.6 L132.5,428.1 L132.5,426.6 L132.5,425.2 L132.5,423.9 L132.6,422.5 L132.6,421.2 L132.6,420.0 L132.6,417.2 L132.7,414.6 L132.7,412.0 L132.8,409.6 L132.8,407.3 L132.9,405.1 L132.9,403.0 L133.0,401.0 L133.0,399.1 L133.1,397.2 L133.1,395.3 L133.2,393.5 L133.2,391.8 L133.3,390.1 L133.3,388.4 L133.4,386.7 L133.4,385.0 L133.5,382.5 L133.5,380.1 L133.6,377.8 L133.6,375.5 L133.7,373.4 L133.7,371.4 L133.9,369.6 L134.0,368.0 L134.4,364.4 L135.0,362.5 L136.0,363.3 L137.0,365.0 L137.7,367.2 L138.2,369.7 L139.0,372.0 L140.3,374.1 L142.0,375.5 L143.8,376.0 L146.3,376.0 L147.4,376.0 L148.6,376.0 L150.0,376.0 L151.5,376.0 L153.2,376.0 L155.0,375.9 L156.9,375.9 L159.0,375.8 L161.1,375.8 L163.3,375.7 L165.5,375.6 L167.8,375.5 L170.2,375.4 L172.5,375.3 L174.9,375.2 L177.3,375.1 L179.6,375.0 L181.9,374.9 L184.2,374.8 L186.4,374.7 L188.6,374.6 L190.7,374.5 L192.7,374.4 L194.7,374.3 L196.7,374.3 L198.7,374.2 L200.8,374.1 L202.8,374.0 L204.8,373.9 L206.8,373.8 L208.9,373.7 L210.9,373.6 L212.9,373.5 L214.9,373.4 L217.0,373.3 L219.0,373.2 L221.1,373.2 L223.1,373.1 L225.1,373.0 L227.2,372.9 L229.2,372.8 L231.2,372.7 L233.2,372.6 L235.3,372.5 L237.3,372.4 L239.3,372.3 L241.3,372.2 L243.4,372.1 L245.4,372.0 L247.4,372.0 L249.4,371.9 L251.5,371.8 L253.5,371.7 L255.5,371.6 L257.5,371.5 L259.5,371.4 L261.6,371.3 L263.6,371.3 L265.6,371.2 L267.6,371.1 L269.7,371.0 L271.7,370.9 L273.7,370.8 L275.7,370.7 L277.7,370.6 L279.8,370.5 L281.8,370.4 L283.8,370.3 L285.8,370.2 L287.8,370.1 L289.9,370.0 L291.9,369.9 L293.9,369.8 L295.9,369.7 L298.0,369.6 L300.0,369.4 L302.0,369.3 L304.0,369.2 L306.0,369.1 L308.1,369.0 L310.1,368.9 L312.1,368.8 L314.1,368.6 L316.2,368.5 L318.2,368.4 L320.2,368.3 L322.2,368.1 L324.2,368.0 L326.3,367.9 L328.3,367.7 L330.3,367.6 L332.3,367.5 L334.3,367.3 L336.4,367.2 L338.4,367.0 L340.4,366.9 L342.4,366.7 L344.5,366.6 L346.5,366.4 L348.5,366.2 L350.5,366.1 L352.5,365.9 L354.6,365.7 L356.6,365.6 L358.6,365.4 L360.6,365.2 L362.7,365.1 L364.7,364.9 L366.7,364.7 L368.7,364.5 L370.7,364.3 L372.8,364.2 L374.8,364.0 L376.8,363.8 L378.8,363.6 L380.9,363.4 L383.0,363.2 L385.1,363.1 L387.2,362.9 L389.4,362.7 L391.5,362.5 L393.7,362.3 L395.8,362.1 L398.0,361.9 L400.1,361.7 L402.2,361.5 L404.3,361.3 L406.4,361.1 L408.4,360.9 L410.5,360.7 L412.4,360.5 L414.4,360.2 L416.3,360.0 L418.1,359.8 L419.9,359.6 L421.6,359.3 L423.3,359.1 L425.6,358.8 L427.6,358.4 L429.6,358.1 L431.5,357.7 L433.3,357.4 L435.1,357.0 L436.9,356.7 L438.7,356.3 L440.7,355.9 L442.8,355.4 L445.0,355.0 L446.7,354.7 L448.4,354.3 L450.3,354.0 L452.2,353.6 L454.2,353.2 L456.2,352.8 L458.3,352.4 L460.4,352.0 L462.5,351.6 L464.7,351.2 L466.9,350.7 L469.1,350.3 L471.3,349.9 L473.4,349.4 L475.6,349.0 L477.7,348.6 L479.8,348.2 L481.8,347.7 L483.8,347.3 L485.7,346.9 L487.5,346.5 L489.3,346.1 L491.0,345.7 L493.3,345.2 L495.5,344.6 L497.7,344.1 L499.7,343.6 L501.7,343.1 L503.6,342.6 L505.5,342.1 L507.4,341.6 L509.3,341.0 L511.2,340.4 L513.2,339.8 L515.2,339.1 L517.2,338.5 L519.2,337.8 L521.3,337.1 L523.3,336.4 L525.3,335.6 L527.3,334.8 L529.2,334.0 L531.2,333.2 L533.1,332.3 L535.0,331.4 L536.8,330.5 L538.7,329.5 L540.5,328.6 L542.3,327.6 L544.0,326.6 L545.8,325.5 L547.5,324.4 L549.2,323.3 L550.9,322.1 L552.6,320.9 L554.2,319.6 L555.7,318.3 L557.2,317.0 L558.7,315.6 L560.2,314.2 L561.6,312.7 L563.0,311.2 L564.4,309.7 L565.8,308.2 L567.1,306.6 L568.5,305.1 L569.7,303.5 L571.0,302.0 L572.4,300.3 L573.8,298.5 L575.2,296.8 L576.5,295.0 L577.9,293.3 L579.1,291.5 L580.3,289.7 L581.5,287.9 L582.5,286.0 L583.5,284.2 L584.4,282.3 L585.2,280.4 L585.9,278.5 L586.5,276.5 L587.1,274.6 L587.7,272.6 L588.2,270.6 L588.8,268.6 L589.4,266.5 L590.0,264.6 L590.5,262.6 L591.1,260.5 L591.6,258.4 L592.2,256.3 L592.7,254.2 L593.2,252.1 L593.7,250.1 L594.3,248.1 L594.8,246.2 L595.3,244.3 L596.0,242.0 L596.6,239.9 L597.2,237.8 L597.9,235.7 L598.5,233.7 L599.1,231.6 L599.8,229.5 L600.4,227.5 L601.1,225.5 L601.7,223.4 L602.4,221.4 L603.0,219.3 L603.7,217.2 L604.3,215.1 L605.0,213.0 L605.6,211.0 L606.2,209.1 L606.8,207.1 L607.5,205.1 L608.1,203.1 L608.7,201.1 L609.3,199.1 L609.9,197.1 L610.5,195.0 L611.0,193.0 L611.6,191.0 L612.1,189.0 L612.6,187.0 L613.2,185.0 L613.7,182.9 L614.2,180.9 L614.7,178.9 L615.2,176.9 L615.7,174.9 L616.2,172.9 L616.7,170.8 L617.2,168.8 L617.6,166.8 L618.1,164.8 L618.6,162.8 L619.1,160.8 L619.6,159.0 L620.1,157.1 L620.7,155.1 L621.3,153.0 L621.9,151.1 L622.5,149.2 L623.1,147.3 L623.8,145.5 L624.6,143.8 L625.6,141.8 L626.7,139.8 L627.8,137.9 L629.1,136.3 L630.5,134.9 L632.8,133.4 L635.4,132.5 L637.9,132.0 L639.9,132.1 L641.8,132.6 L643.8,133.2 L646.0,134.0 L648.4,134.9 L651.2,135.7 L652.8,135.9 L654.5,136.1 L656.2,136.2 L658.1,136.2 L660.2,136.3 L662.3,136.2 L664.5,136.2 L666.9,136.2 L669.5,136.1 L672.2,136.1 L675.0,136.1 L676.4,136.1 L677.8,136.1 L679.3,136.1 L680.8,136.1 L682.5,136.1 L684.1,136.1 L685.9,136.1 L687.7,136.1 L689.5,136.1 L691.4,136.1 L693.4,136.1 L695.3,136.1 L697.4,136.1 L699.4,136.0 L701.5,136.0 L703.6,136.0 L705.8,136.0 L708.0,136.0 L710.2,136.0 L712.4,136.0 L714.7,135.9 L716.9,135.9 L719.2,135.9 L721.5,135.9 L723.8,135.8 L726.1,135.8 L728.4,135.8 L730.7,135.8 L733.0,135.7 L735.3,135.7 L737.6,135.7 L739.9,135.6 L742.2,135.6 L744.5,135.6 L746.7,135.5 L748.9,135.5 L751.1,135.5 L753.3,135.4 L755.4,135.4 L757.6,135.3 L759.6,135.3 L761.7,135.2 L763.7,135.2 L765.6,135.1 L767.6,135.1 L769.4,135.0 L771.3,135.0 L773.0,134.9 L774.7,134.9 L776.4,134.8 L778.8,134.7 L781.1,134.6 L783.3,134.5 L785.3,134.4 L787.3,134.3 L789.2,134.2 L791.1,134.1 L792.9,134.0 L794.7,133.9 L796.4,133.8 L798.2,133.6 L800.0,133.5 L801.8,133.4 L803.7,133.2 L805.6,133.1 L807.6,133.0 L809.7,132.8 L811.9,132.7 L814.2,132.5 L816.6,132.3 L819.2,132.2 L822.0,132.0 L823.3,131.9 L824.6,131.8 L825.9,131.8 L827.3,131.7 L828.6,131.6 L830.1,131.5 L831.5,131.4 L833.0,131.3 L834.5,131.2 L836.0,131.1 L837.5,131.0 L839.1,130.9 L840.7,130.8 L842.3,130.7 L844.0,130.6 L845.7,130.5 L847.4,130.4 L849.1,130.3 L850.8,130.2 L852.6,130.1 L854.4,129.9 L856.2,129.8 L858.0,129.7 L859.8,129.6 L861.7,129.5 L863.6,129.3 L865.5,129.2 L867.4,129.1 L869.3,129.0 L871.3,128.9 L873.3,128.7 L875.2,128.6 L877.2,128.5 L879.3,128.3 L881.3,128.2 L883.3,128.1 L885.4,127.9 L887.5,127.8 L889.5,127.7 L891.6,127.5 L893.8,127.4 L895.9,127.3 L898.0,127.1 L900.1,127.0 L902.3,126.8 L904.5,126.7 L906.6,126.6 L908.8,126.4 L911.0,126.3 L913.2,126.1 L915.4,126.0 L917.6,125.9 L919.8,125.7 L922.1,125.6 L924.3,125.4 L926.5,125.3 L928.8,125.1 L931.0,125.0 L933.2,124.8 L935.5,124.7 L937.7,124.6 L940.0,124.4 L942.3,124.3 L944.5,124.1 L946.8,124.0 L949.0,123.8 L951.3,123.7 L953.5,123.5 L955.8,123.4 L958.1,123.2 L960.3,123.1 L962.6,123.0 L964.8,122.8 L967.1,122.7 L969.3,122.5 L971.5,122.4 L973.8,122.2 L976.0,122.1 L978.2,121.9 L980.4,121.8 L982.6,121.7 L984.9,121.5 L987.0,121.4 L989.2,121.2 L991.4,121.1 L993.6,121.0 L995.7,120.8 L997.9,120.7 L1000.0,120.5 L1002.2,120.4 L1004.3,120.3 L1006.4,120.1 L1008.5,120.0 L1010.6,119.9 L1012.6,119.7 L1014.7,119.6 L1016.7,119.5 L1018.8,119.3 L1020.8,119.2 L1022.8,119.1 L1024.8,119.0 L1026.7,118.8 L1028.7,118.7 L1030.6,118.6 L1032.5,118.5 L1034.4,118.4 L1036.3,118.2 L1038.2,118.1 L1040.0,118.0 L1042.2,117.9 L1044.4,117.7 L1046.5,117.6 L1048.7,117.5 L1050.8,117.3 L1053.0,117.2 L1055.1,117.1 L1057.2,116.9 L1059.3,116.8 L1061.4,116.7 L1063.5,116.5 L1065.6,116.4 L1067.7,116.3 L1069.8,116.1 L1071.9,116.0 L1073.9,115.9 L1076.0,115.7 L1078.0,115.6 L1080.1,115.5 L1082.1,115.4 L1084.2,115.2 L1086.2,115.1 L1088.2,115.0 L1090.3,114.9 L1092.3,114.7 L1094.3,114.6 L1096.3,114.5 L1098.3,114.4 L1100.3,114.2 L1102.3,114.1 L1104.3,114.0 L1106.3,113.9 L1108.3,113.7 L1110.3,113.6 L1112.2,113.5 L1114.2,113.4 L1116.2,113.3 L1118.2,113.1 L1120.1,113.0 L1122.1,112.9 L1124.1,112.8 L1126.0,112.7 L1128.0,112.5 L1130.0,112.4 L1131.9,112.3 L1133.9,112.2 L1135.8,112.0 L1137.8,111.9 L1139.7,111.8 L1141.7,111.7 L1143.7,111.6 L1145.6,111.4 L1147.6,111.3 L1149.5,111.2 L1151.5,111.1 L1153.4,111.0 L1155.4,110.8 L1157.4,110.7 L1159.3,110.6 L1161.3,110.5 L1163.2,110.4 L1165.2,110.2 L1167.2,110.1 L1169.1,110.0 L1171.1,109.9 L1173.1,109.8 L1175.1,109.6 L1177.0,109.5 L1179.0,109.4 L1181.0,109.3 L1183.0,109.1 L1185.0,109.0 L1187.0,108.9 L1189.0,108.8 L1191.0,108.6 L1193.0,108.5 L1195.0,108.4" fill="none" stroke="#FFC000" stroke-width="6.1" stroke-linecap="round" stroke-linejoin="round" stroke-dasharray="11.8 11.5" stroke-dashoffset="0.18"/>
<path d="M129.2,677.0 L129.2,675.0 L129.2,673.0 L129.2,671.0 L129.3,669.1 L129.3,667.1 L129.3,665.2 L129.3,663.3 L129.3,661.4 L129.3,659.5 L129.3,657.6 L129.4,655.7 L129.4,653.8 L129.4,651.9 L129.4,650.0 L129.4,648.1 L129.4,646.2 L129.4,644.3 L129.5,642.4 L129.5,640.5 L129.5,638.6 L129.5,636.6 L129.5,634.7 L129.5,632.7 L129.5,630.7 L129.6,628.7 L129.6,626.7 L129.6,624.6 L129.6,622.6 L129.6,620.5 L129.6,618.3 L129.7,616.2 L129.7,614.0 L129.7,611.7 L129.7,609.5 L129.7,607.2 L129.8,604.8 L129.8,602.4 L129.8,600.0 L129.8,598.4 L129.8,596.8 L129.8,595.1 L129.9,593.4 L129.9,591.7 L129.9,590.0 L129.9,588.2 L129.9,586.4 L129.9,584.5 L130.0,582.7 L130.0,580.8 L130.0,578.9 L130.0,577.0 L130.0,575.0 L130.0,573.1 L130.1,571.1 L130.1,569.1 L130.1,567.0 L130.1,565.0 L130.1,562.9 L130.1,560.8 L130.2,558.7 L130.2,556.6 L130.2,554.5 L130.2,552.3 L130.2,550.2 L130.3,548.0 L130.3,545.8 L130.3,543.6 L130.3,541.4 L130.3,539.2 L130.4,537.0 L130.4,534.8 L130.4,532.6 L130.4,530.3 L130.4,528.1 L130.5,525.8 L130.5,523.6 L130.5,521.3 L130.5,519.0 L130.6,516.8 L130.6,514.5 L130.6,512.3 L130.6,510.0 L130.6,507.7 L130.7,505.5 L130.7,503.2 L130.7,501.0 L130.7,498.7 L130.7,496.5 L130.8,494.2 L130.8,492.0 L130.8,489.8 L130.8,487.6 L130.9,485.4 L130.9,483.2 L130.9,481.0 L130.9,478.8 L130.9,476.7 L131.0,474.5 L131.0,472.4 L131.0,470.3 L131.0,468.2 L131.1,466.1 L131.1,464.0 L131.1,462.0 L131.1,459.9 L131.1,457.9 L131.2,455.9 L131.2,454.0 L131.2,452.0 L131.2,450.1 L131.3,448.2 L131.3,446.3 L131.3,444.4 L131.3,442.6 L131.3,440.8 L131.4,439.0 L131.4,437.2 L131.4,435.5 L131.4,433.8 L131.4,432.2 L131.5,430.5 L131.5,428.9 L131.5,427.3 L131.5,425.8 L131.5,424.3 L131.6,422.8 L131.6,421.4 L131.6,420.0 L131.6,417.4 L131.7,414.9 L131.7,412.4 L131.7,410.0 L131.8,407.6 L131.8,405.3 L131.9,403.0 L131.9,400.8 L131.9,398.7 L132.0,396.6 L132.0,394.5 L132.1,392.5 L132.1,390.5 L132.1,388.6 L132.2,386.7 L132.2,384.9 L132.2,383.1 L132.3,381.3 L132.3,379.6 L132.3,377.9 L132.4,376.3 L132.4,374.6 L132.4,373.1 L132.5,371.5 L132.5,370.0 L132.5,367.6 L132.6,365.2 L132.6,363.0 L132.6,361.0 L132.7,359.0 L132.7,357.1 L132.8,355.3 L132.8,353.6 L132.9,352.0 L133.0,348.8 L133.1,346.1 L133.6,344.5 L134.4,344.4 L135.2,344.8 L136.2,347.0 L137.0,350.0 L137.9,353.0 L139.0,355.5 L139.8,356.4 L141.0,357.0 L141.9,357.2 L143.0,357.3 L144.3,357.4 L145.8,357.4 L147.6,357.4 L149.5,357.3 L151.5,357.2 L153.7,357.1 L155.9,356.9 L158.3,356.7 L160.7,356.5 L163.2,356.3 L165.7,356.1 L168.2,355.9 L170.7,355.7 L173.2,355.5 L175.6,355.3 L177.9,355.1 L180.2,355.0 L182.3,354.9 L184.3,354.8 L186.3,354.7 L188.3,354.7 L190.3,354.6 L192.3,354.5 L194.3,354.4 L196.4,354.4 L198.4,354.3 L200.4,354.2 L202.4,354.2 L204.4,354.1 L206.4,354.1 L208.5,354.0 L210.5,353.9 L212.5,353.9 L214.5,353.8 L216.5,353.7 L218.6,353.6 L220.6,353.6 L222.6,353.5 L224.6,353.4 L226.6,353.3 L228.6,353.2 L230.6,353.1 L232.6,353.0 L234.7,353.0 L236.7,352.9 L238.7,352.8 L240.7,352.7 L242.7,352.6 L244.7,352.5 L246.7,352.4 L248.7,352.3 L250.7,352.2 L252.7,352.1 L254.7,352.0 L256.8,351.9 L258.8,351.8 L260.8,351.6 L262.8,351.5 L264.8,351.4 L266.8,351.3 L268.8,351.2 L270.8,351.1 L272.8,350.9 L274.9,350.8 L276.9,350.7 L278.9,350.6 L280.9,350.4 L282.9,350.3 L284.9,350.2 L286.9,350.0 L289.0,349.9 L291.0,349.8 L293.0,349.6 L295.0,349.5 L297.0,349.3 L299.0,349.2 L301.0,349.1 L303.1,348.9 L305.1,348.8 L307.1,348.6 L309.1,348.5 L311.1,348.4 L313.1,348.2 L315.1,348.1 L317.2,347.9 L319.2,347.8 L321.2,347.7 L323.2,347.5 L325.2,347.4 L327.2,347.3 L329.2,347.1 L331.3,347.0 L333.3,346.8 L335.3,346.7 L337.3,346.5 L339.3,346.4 L341.3,346.2 L343.3,346.1 L345.4,345.9 L347.4,345.7 L349.4,345.6 L351.4,345.4 L353.4,345.2 L355.5,345.0 L357.5,344.8 L359.6,344.6 L361.7,344.4 L363.8,344.2 L365.9,344.0 L368.0,343.8 L370.1,343.6 L372.1,343.4 L374.2,343.1 L376.3,342.9 L378.3,342.7 L380.3,342.5 L382.3,342.3 L384.3,342.1 L386.3,341.9 L388.2,341.7 L390.1,341.5 L391.9,341.3 L393.7,341.1 L395.9,340.9 L398.1,340.7 L400.3,340.5 L402.4,340.3 L404.4,340.1 L406.5,339.9 L408.5,339.8 L410.4,339.6 L412.4,339.4 L414.3,339.2 L416.2,339.0 L418.1,338.8 L420.0,338.6 L422.3,338.3 L424.6,338.1 L426.8,337.8 L429.0,337.5 L431.1,337.2 L433.2,336.9 L435.4,336.6 L437.5,336.3 L439.7,335.9 L441.7,335.6 L443.7,335.2 L445.6,334.8 L447.6,334.4 L449.6,334.0 L451.6,333.6 L453.6,333.1 L455.5,332.7 L457.5,332.3 L459.5,331.9 L461.5,331.5 L463.5,331.1 L465.5,330.7 L467.5,330.3 L469.5,329.9 L471.4,329.5 L473.4,329.1 L475.4,328.7 L477.3,328.2 L479.2,327.8 L481.4,327.3 L483.5,326.8 L485.6,326.3 L487.7,325.8 L489.7,325.3 L491.8,324.8 L493.9,324.2 L496.0,323.6 L498.0,323.0 L500.0,322.4 L502.0,321.8 L504.0,321.1 L506.0,320.4 L508.0,319.7 L510.0,319.0 L512.0,318.3 L514.0,317.6 L516.0,316.9 L518.0,316.1 L520.1,315.4 L522.1,314.7 L524.1,313.9 L526.1,313.1 L528.1,312.3 L530.1,311.5 L532.0,310.6 L533.8,309.7 L535.7,308.8 L537.5,307.9 L539.3,307.0 L541.0,306.0 L542.8,305.1 L544.5,304.1 L546.3,303.0 L548.0,302.0 L549.7,300.9 L551.5,299.9 L553.3,298.8 L555.0,297.7 L556.8,296.5 L558.4,295.4 L560.1,294.2 L561.7,292.9 L563.2,291.6 L564.8,290.1 L566.3,288.5 L567.8,286.9 L569.2,285.2 L570.6,283.5 L571.9,281.9 L573.2,280.2 L574.3,278.7 L575.6,276.9 L576.7,275.2 L577.8,273.5 L578.8,271.7 L579.8,269.9 L580.8,268.1 L581.7,266.3 L582.7,264.5 L583.6,262.6 L584.5,260.7 L585.4,258.8 L586.2,256.8 L587.0,254.9 L587.7,252.8 L588.4,250.8 L589.1,248.7 L589.8,246.6 L590.5,244.5 L591.1,242.4 L591.7,240.3 L592.4,238.1 L593.0,235.9 L593.6,233.7 L594.2,231.5 L594.7,229.6 L595.2,227.7 L595.7,225.8 L596.2,223.9 L596.7,222.0 L597.2,220.0 L597.7,218.0 L598.2,216.0 L598.7,214.1 L599.2,212.1 L599.8,210.1 L600.3,208.1 L600.9,206.1 L601.5,204.0 L602.0,201.9 L602.6,199.8 L603.1,197.7 L603.7,195.5 L604.2,193.6 L604.6,191.7 L605.1,189.8 L605.6,187.8 L606.0,185.8 L606.5,183.8 L607.0,181.8 L607.4,179.8 L607.9,177.8 L608.4,175.8 L608.8,173.8 L609.3,171.9 L609.8,170.0 L610.3,167.9 L610.9,165.9 L611.4,163.9 L611.9,161.8 L612.4,159.8 L613.0,157.8 L613.5,155.9 L614.0,153.9 L614.6,152.0 L615.1,150.1 L615.7,148.2 L616.3,146.1 L617.0,144.0 L617.6,142.0 L618.3,140.0 L618.9,138.0 L619.6,136.0 L620.2,134.1 L620.9,132.3 L621.6,130.5 L622.4,128.4 L623.3,126.4 L624.1,124.5 L624.9,122.7 L625.8,121.0 L626.8,119.4 L628.4,117.1 L630.1,115.1 L632.0,113.5 L633.9,112.5 L635.9,111.9 L637.9,111.6 L639.9,111.8 L641.8,112.3 L643.8,113.0 L645.8,113.9 L647.8,114.9 L649.7,115.7 L651.8,116.4 L654.2,116.9 L655.6,117.0 L657.2,117.0 L659.0,117.0 L660.9,116.9 L663.0,116.8 L665.2,116.6 L667.5,116.5 L670.0,116.3 L672.4,116.2 L675.0,116.1 L676.6,116.1 L678.2,116.0 L679.9,116.0 L681.7,116.0 L683.5,115.9 L685.4,115.9 L687.3,115.9 L689.3,115.8 L691.3,115.8 L693.4,115.8 L695.4,115.7 L697.5,115.7 L699.7,115.7 L701.8,115.7 L704.0,115.6 L706.2,115.6 L708.4,115.6 L710.6,115.6 L712.8,115.5 L715.0,115.5 L717.1,115.5 L719.3,115.5 L721.5,115.4 L723.7,115.4 L725.8,115.4 L727.9,115.3 L730.0,115.3 L732.0,115.3 L734.1,115.2 L736.2,115.2 L738.4,115.2 L740.6,115.2 L742.8,115.1 L745.0,115.1 L747.2,115.1 L749.5,115.1 L751.8,115.0 L754.0,115.0 L756.3,115.0 L758.6,115.0 L760.8,114.9 L763.0,114.9 L765.2,114.9 L767.4,114.8 L769.5,114.8 L771.6,114.8 L773.6,114.7 L775.6,114.7 L777.5,114.6 L779.4,114.6 L781.2,114.5 L782.9,114.5 L784.6,114.4 L786.1,114.3 L787.6,114.3 L789.0,114.2 L791.5,114.0 L793.7,113.8 L795.7,113.6 L797.5,113.4 L799.3,113.2 L801.1,113.0 L803.0,112.8 L804.9,112.6 L806.5,112.5 L808.1,112.4 L809.8,112.3 L811.8,112.1 L814.1,112.0 L817.0,111.9 L817.8,111.9 L818.7,111.8 L819.6,111.8 L820.5,111.8 L821.5,111.7 L822.5,111.7 L823.6,111.7 L824.7,111.6 L825.8,111.6 L827.0,111.6 L828.2,111.5 L829.4,111.5 L830.7,111.4 L832.0,111.4 L833.3,111.4 L834.7,111.3 L836.1,111.3 L837.5,111.3 L839.0,111.2 L840.5,111.2 L842.0,111.2 L843.6,111.1 L845.1,111.1 L846.7,111.0 L848.4,111.0 L850.1,111.0 L851.7,110.9 L853.5,110.9 L855.2,110.8 L857.0,110.8 L858.8,110.8 L860.6,110.7 L862.5,110.7 L864.3,110.7 L866.2,110.6 L868.1,110.6 L870.1,110.5 L872.0,110.5 L874.0,110.5 L876.0,110.4 L878.1,110.4 L880.1,110.3 L882.2,110.3 L884.2,110.3 L886.3,110.2 L888.5,110.2 L890.6,110.1 L892.7,110.1 L894.9,110.1 L897.1,110.0 L899.3,110.0 L901.5,109.9 L903.7,109.9 L906.0,109.9 L908.2,109.8 L910.5,109.8 L912.8,109.7 L915.1,109.7 L917.4,109.6 L919.7,109.6 L922.0,109.6 L924.3,109.5 L926.7,109.5 L929.0,109.4 L931.4,109.4 L933.7,109.4 L936.1,109.3 L938.5,109.3 L940.9,109.2 L943.3,109.2 L945.7,109.1 L948.1,109.1 L950.5,109.1 L952.9,109.0 L955.3,109.0 L957.7,108.9 L960.1,108.9 L962.5,108.8 L964.9,108.8 L967.4,108.8 L969.8,108.7 L972.2,108.7 L974.6,108.6 L977.0,108.6 L979.5,108.5 L981.9,108.5 L984.3,108.5 L986.7,108.4 L989.1,108.4 L991.5,108.3 L993.9,108.3 L996.3,108.2 L998.7,108.2 L1001.0,108.1 L1003.4,108.1 L1005.8,108.1 L1008.1,108.0 L1010.5,108.0 L1012.8,107.9 L1015.1,107.9 L1017.5,107.8 L1019.8,107.8 L1022.1,107.8 L1024.4,107.7 L1026.6,107.7 L1028.9,107.6 L1031.1,107.6 L1033.4,107.5 L1035.6,107.5 L1037.8,107.4 L1040.0,107.4 L1041.8,107.4 L1043.7,107.3 L1045.5,107.3 L1047.4,107.3 L1049.2,107.2 L1051.1,107.2 L1052.9,107.1 L1054.8,107.1 L1056.6,107.1 L1058.5,107.0 L1060.4,107.0 L1062.3,107.0 L1064.2,106.9 L1066.0,106.9 L1067.9,106.8 L1069.8,106.8 L1071.7,106.8 L1073.6,106.7 L1075.5,106.7 L1077.4,106.6 L1079.4,106.6 L1081.3,106.6 L1083.2,106.5 L1085.1,106.5 L1087.0,106.5 L1089.0,106.4 L1090.9,106.4 L1092.8,106.3 L1094.8,106.3 L1096.7,106.3 L1098.7,106.2 L1100.6,106.2 L1102.6,106.1 L1104.5,106.1 L1106.5,106.1 L1108.5,106.0 L1110.4,106.0 L1112.4,105.9 L1114.4,105.9 L1116.3,105.9 L1118.3,105.8 L1120.3,105.8 L1122.3,105.7 L1124.2,105.7 L1126.2,105.7 L1128.2,105.6 L1130.2,105.6 L1132.2,105.5 L1134.2,105.5 L1136.2,105.5 L1138.2,105.4 L1140.2,105.4 L1142.2,105.3 L1144.2,105.3 L1146.2,105.3 L1148.2,105.2 L1150.3,105.2 L1152.3,105.1 L1154.3,105.1 L1156.3,105.1 L1158.3,105.0 L1160.4,105.0 L1162.4,104.9 L1164.4,104.9 L1166.4,104.8 L1168.5,104.8 L1170.5,104.8 L1172.5,104.7 L1174.6,104.7 L1176.6,104.6 L1178.7,104.6 L1180.7,104.6 L1182.7,104.5 L1184.8,104.5 L1186.8,104.4 L1188.9,104.4 L1190.9,104.4 L1193.0,104.3 L1195.0,104.3 L1197.1,104.2 L1199.1,104.2 L1201.2,104.1 L1203.2,104.1 L1205.3,104.1 L1207.3,104.0 L1209.4,104.0 L1211.5,103.9 L1213.5,103.9 L1215.6,103.9 L1217.6,103.8 L1219.7,103.8 L1221.8,103.7 L1223.8,103.7 L1225.9,103.6 L1227.9,103.6 L1230.0,103.6 L1232.1,103.5 L1234.1,103.5 L1236.2,103.4 L1238.3,103.4 L1240.3,103.4 L1242.4,103.3 L1244.5,103.3 L1246.5,103.2 L1248.6,103.2 L1250.7,103.1 L1252.7,103.1 L1254.8,103.1 L1256.8,103.0 L1258.9,103.0 L1261.0,102.9 L1263.0,102.9 L1265.1,102.9 L1267.2,102.8 L1269.2,102.8 L1271.3,102.7 L1273.4,102.7 L1275.4,102.6 L1277.5,102.6 L1279.5,102.6 L1281.6,102.5 L1283.7,102.5 L1285.7,102.4 L1287.8,102.4 L1289.8,102.4 L1291.9,102.3 L1293.9,102.3 L1296.0,102.2 L1298.1,102.2 L1300.1,102.1 L1302.2,102.1 L1304.2,102.1 L1306.3,102.0 L1308.3,102.0 L1310.4,101.9 L1312.4,101.9 L1314.4,101.9 L1316.5,101.8 L1318.5,101.8 L1320.6,101.7 L1322.6,101.7 L1324.6,101.7 L1326.7,101.6 L1328.7,101.6 L1330.7,101.5 L1332.8,101.5 L1334.8,101.4 L1336.8,101.4 L1338.9,101.4 L1340.9,101.3 L1342.9,101.3 L1344.9,101.2 L1346.9,101.2 L1349.0,101.2 L1351.0,101.1 L1353.0,101.1 L1355.0,101.0 L1357.0,101.0" fill="none" stroke="#000" stroke-width="6.1" stroke-linecap="round" stroke-linejoin="round"/>
<g font-family="Liberation Serif" font-size="32.8" fill="#595959"><path d="M177.45000000000002,78.2H274.55" stroke="#FF0000" stroke-width="6.1" stroke-linecap="round" stroke-dasharray="17.4 23.2 0 23.1"/><path d="M177.45000000000002,134.0H274.55" stroke="#0070C0" stroke-width="6.1" stroke-linecap="round" stroke-dasharray="40.8 23 0 23.1 0 23.3"/><path d="M177.45000000000002,189.6H274.55" stroke="#00B050" stroke-width="6.1" stroke-linecap="round"/><rect x="216.1" y="179.79999999999998" width="19.6" height="19.6" fill="#fff"/><g fill="none" stroke="#00B050" stroke-width="3.3"><path d="M218.1,181.8L233.7,197.4M218.1,197.4L233.7,181.8M225.9,181.3L225.9,197.9"/></g><path d="M177.45000000000002,245.9H274.55" stroke="#FFC000" stroke-width="6.1" stroke-linecap="round" stroke-dasharray="11.8 11.5"/><path d="M177.45000000000002,301.5H274.55" stroke="#000" stroke-width="6.1" stroke-linecap="round"/><text x="285.6" y="87.3" textLength="193.2" lengthAdjust="spacingAndGlyphs">CO2 + 1 Cycle</text><text x="285.6" y="143.1" textLength="193.2" lengthAdjust="spacingAndGlyphs">CO2 + 2 Cycle</text><text x="285.6" y="198.7" textLength="193.2" lengthAdjust="spacingAndGlyphs">CO2 + 5 Cycle</text><text x="285.6" y="255.0" textLength="208.6" lengthAdjust="spacingAndGlyphs">CO2 + 10 Cycle</text><text x="285.6" y="310.6" textLength="208.6" lengthAdjust="spacingAndGlyphs">CO2 &gt; 15 Cycle</text></g>
</svg>
</body></html>
